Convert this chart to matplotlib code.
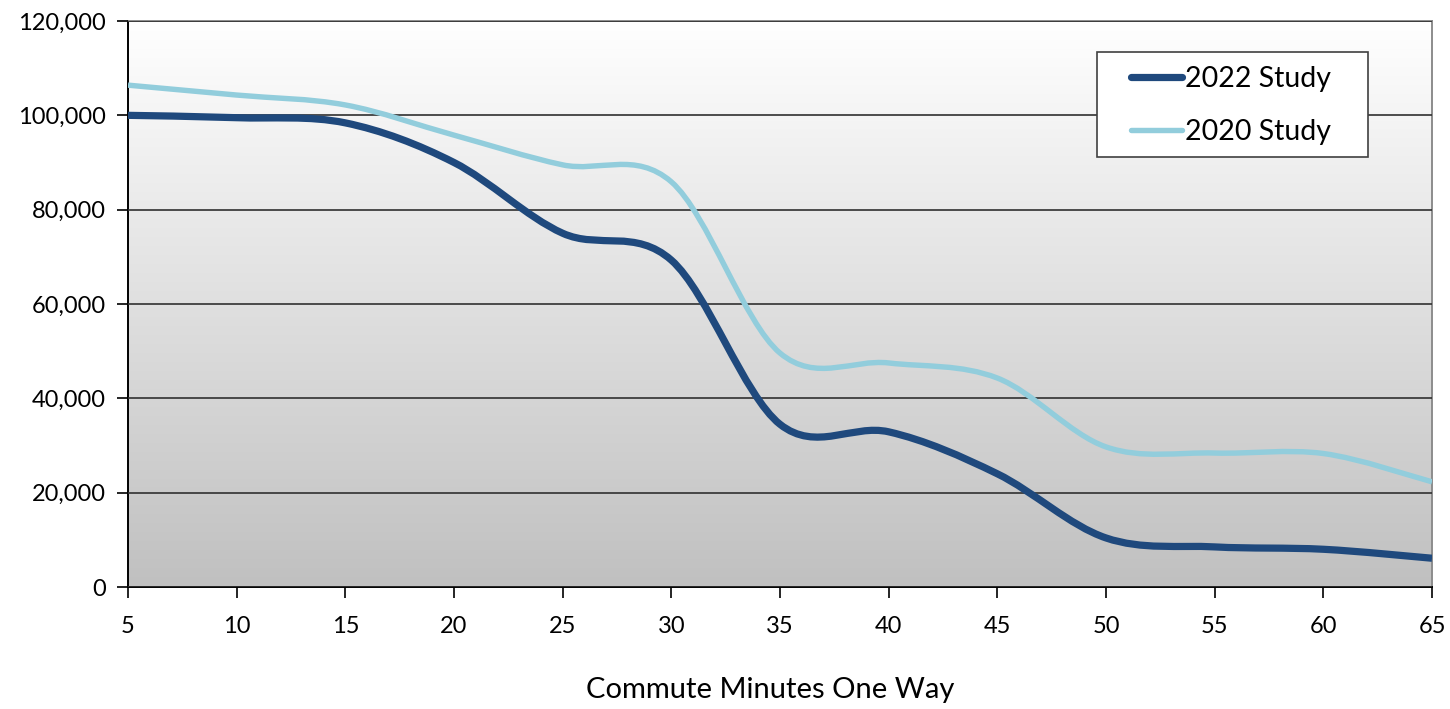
import numpy as np
import matplotlib
matplotlib.use("Agg")
import matplotlib.pyplot as plt
from matplotlib.path import Path
from matplotlib.patches import PathPatch, Rectangle
from matplotlib.lines import Line2D
from matplotlib.colors import LinearSegmentedColormap
from matplotlib.ticker import FuncFormatter

plt.rcParams["font.family"] = ["Lato", "DejaVu Sans"]

# commute minutes (one way) and number of people at or above that commute
minutes = [5, 10, 15, 20, 25, 30, 35, 40, 45, 50, 55, 60, 65]
study_2022 = [100000, 99500, 98400, 90000, 75000, 69300, 34500, 32900, 24000, 10400, 8500, 8000, 6100]
study_2020 = [106400, 104300, 102200, 95800, 89500, 85900, 49600, 47500, 44300, 29700, 28400, 28300, 22300]

DARK = "#1F497D"
LIGHT = "#92CDDC"


def smooth_path(xs, ys):
    """Catmull-Rom style cubic Bezier through every point (Excel 'smoothed line')."""
    pts = np.column_stack([xs, ys]).astype(float)
    n = len(pts)
    verts = [pts[0]]
    codes = [Path.MOVETO]
    for i in range(n - 1):
        p0 = pts[max(i - 1, 0)]
        p1 = pts[i]
        p2 = pts[i + 1]
        p3 = pts[min(i + 2, n - 1)]
        c1 = p1 + (p2 - p0) / 6.0
        c2 = p2 - (p3 - p1) / 6.0
        verts += [c1, c2, p2]
        codes += [Path.CURVE4] * 3
    return Path(verts, codes)


W, H = 1450, 709
L, R, T, B = 128, 1432, 21, 587


def ax_x(px):
    return (px - L) / (R - L)


def ax_y(py):
    return 1 - (py - T) / (B - T)


fig = plt.figure(figsize=(W / 100, H / 100), dpi=100)
ax = fig.add_axes([L / W, 1 - B / H, (R - L) / W, (B - T) / H])

# vertical white-to-grey fill of the plot area
grad = LinearSegmentedColormap.from_list("bg", ["#c0c0c0", "#ffffff"])
ax.imshow(np.linspace(0, 1, 256).reshape(-1, 1), cmap=grad, aspect="auto",
          extent=[0, 1, 0, 1], transform=ax.transAxes, origin="lower", zorder=0)

ax.set_xlim(5, 65)
ax.set_ylim(0, 120000)
ax.set_xticks(minutes)
ax.set_yticks(np.arange(0, 120001, 20000))
ax.yaxis.set_major_formatter(FuncFormatter(lambda v, _: f"{v:,.0f}"))
ax.grid(axis="y", color="#303030", linewidth=1.2, zorder=1)
ax.set_axisbelow(False)

for ys, color, lw in [(study_2020, LIGHT, 3.9), (study_2022, DARK, 5.2)]:
    patch = PathPatch(smooth_path(minutes, ys), facecolor="none", edgecolor=color,
                      linewidth=lw, capstyle="butt", joinstyle="round", zorder=3)
    ax.add_patch(patch)

for side in ["left", "bottom"]:
    ax.spines[side].set_color("#000000")
    ax.spines[side].set_linewidth(1.4)
for side in ["top", "right"]:
    ax.spines[side].set_color("#8c8c8c")
    ax.spines[side].set_linewidth(1.4)

ax.tick_params(axis="both", direction="out", length=8, width=1.2, color="#000000",
               labelsize=17, labelcolor="#000000")
ax.tick_params(axis="y", pad=8)
ax.tick_params(axis="x", pad=13)

ax.set_xlabel("Commute Minutes One Way", fontsize=21)
ax.xaxis.set_label_coords(ax_x(770), ax_y(690))
ax.xaxis.label.set_va("center")

# legend: white box with a dark border, entries placed inside it
box = Rectangle((ax_x(1097), ax_y(157)), ax_x(1368) - ax_x(1097), ax_y(52) - ax_y(157),
                transform=ax.transAxes, facecolor="white", edgecolor="#404040",
                linewidth=1.2, zorder=5)
ax.add_patch(box)
handles = [Line2D([], [], color=DARK, linewidth=5.2, solid_capstyle="round"),
           Line2D([], [], color=LIGHT, linewidth=3.9, solid_capstyle="round")]
leg = ax.legend(handles, ["2022 Study", "2020 Study"], loc="upper left",
                bbox_to_anchor=(ax_x(1131), ax_y(66)), fontsize=20.5, frameon=False,
                handlelength=1.8, handletextpad=0.1, borderpad=0, labelspacing=0.95,
                borderaxespad=0)
leg.set_zorder(6)

fig.savefig("out.png", dpi=100)
